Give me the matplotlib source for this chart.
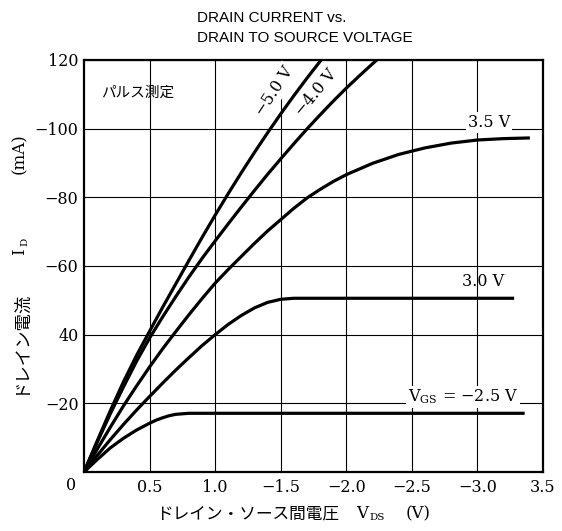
import matplotlib
matplotlib.use('Agg')
import matplotlib.pyplot as plt

W, H = 562, 531  # output size in pixels

# drain current (mA, magnitude) vs drain-source voltage (V, magnitude)
vds_50 = [0, 0.1, 0.2, 0.3, 0.4, 0.5, 0.6, 0.7, 0.8, 0.9, 1.0, 1.1, 1.2, 1.3,
          1.4, 1.5, 1.6, 1.7, 1.8, 1.85]
id_50 = [0, 9.0, 17.8, 26.2, 33.9, 41.0, 48.0, 54.8, 61.6, 68.3, 74.8, 81.1,
         87.2, 93.1, 98.8, 104.3, 109.6, 114.7, 119.6, 122.0]

vds_40 = [0, 0.1, 0.2, 0.3, 0.4, 0.5, 0.6, 0.7, 0.8, 0.9, 1.0, 1.1, 1.2, 1.3,
          1.4, 1.5, 1.6, 1.7, 1.8, 1.9, 2.0, 2.1, 2.2, 2.25]
id_40 = [0, 8.6, 16.9, 24.7, 32.2, 39.0, 45.2, 51.1, 56.8, 62.2, 67.3, 72.3,
         77.2, 82.0, 86.7, 91.2, 95.6, 99.9, 104.0, 108.0, 111.8, 115.4, 118.9, 120.6]

vds_35 = [0, 0.1, 0.2, 0.3, 0.4, 0.5, 0.6, 0.7, 0.8, 0.9, 1.0, 1.1, 1.2, 1.3,
          1.4, 1.5, 1.6, 1.7, 1.8, 1.9, 2.0, 2.2, 2.4, 2.6, 2.8, 3.0, 3.2, 3.4]
id_35 = [0, 6.6, 13.0, 19.2, 25.0, 30.6, 35.9, 40.9, 45.8, 50.5, 55.0, 59.0,
         62.8, 66.6, 70.2, 73.5, 76.8, 79.8, 82.3, 84.6, 86.6, 89.9, 92.5, 94.4,
         95.8, 96.7, 97.1, 97.3]

vds_30 = [0, 0.1, 0.2, 0.3, 0.4, 0.5, 0.6, 0.7, 0.8, 0.9, 1.0, 1.1, 1.2, 1.3,
          1.4, 1.5, 1.6, 3.28]
id_30 = [0, 4.8, 9.4, 13.8, 18.0, 22.0, 25.9, 29.7, 33.3, 36.8, 40.0, 43.0,
         45.6, 47.8, 49.4, 50.3, 50.6, 50.6]

vds_25 = [0, 0.1, 0.2, 0.3, 0.4, 0.5, 0.55, 0.6, 0.65, 0.7, 0.8, 3.36]
id_25 = [0, 3.6, 7.0, 9.8, 12.2, 14.2, 15.1, 15.8, 16.4, 16.8, 17.1, 17.1]

x_ticks = [0.5, 1.0, 1.5, 2.0, 2.5, 3.0, 3.5]
x_tick_labels = ['0.5', '1.0', '\u22121.5', '\u22122.0', '\u22122.5', '\u22123.0', '3.5']
y_ticks = [20, 40, 60, 80, 100, 120]
y_tick_labels = ['\u221220', '40', '\u221260', '\u221280', '\u2212100', '120']

NUM = 'DejaVu Serif'
JP = ['Noto Sans CJK JP', 'DejaVu Sans']
plt.rcParams['mathtext.fontset'] = 'dejavuserif'

fig = plt.figure(figsize=(W / 100, H / 100), dpi=100)
ax = fig.add_axes([84 / W, 1 - 472 / H, 459 / W, 412 / H])

for vx, iy in [(vds_50, id_50), (vds_40, id_40), (vds_35, id_35),
               (vds_30, id_30), (vds_25, id_25)]:
    ax.plot(vx, iy, color='black', lw=2.3, solid_capstyle='butt',
            solid_joinstyle='round', zorder=4)

ax.set_xlim(0, 3.5)
ax.set_ylim(0, 120)
ax.set_xticks(x_ticks)
ax.set_xticklabels(x_tick_labels, fontfamily=NUM, fontsize=11.5)
ax.set_yticks(y_ticks)
ax.set_yticklabels(y_tick_labels, fontfamily=NUM, fontsize=11.5)
ax.tick_params(length=0)
ax.tick_params(axis='x', pad=5)
ax.tick_params(axis='y', pad=4)
ax.grid(True, color='black', lw=0.8)
ax.set_axisbelow(True)
for sp in ax.spines.values():
    sp.set_linewidth(1.6)

# shared origin label
ax.text(-0.099, -3.8, '0', fontfamily=NUM, fontsize=11.5,
        ha='center', va='center', clip_on=False)

# curve labels
white = dict(facecolor='white', edgecolor='none', pad=1.5)
ax.text(1.45, 110.9, '\u22125.0 V', fontfamily=NUM, fontsize=11.5, rotation=56.7,
        ha='center', va='center', rotation_mode='anchor', zorder=3, bbox=white)
ax.text(1.77, 110.4, '\u22124.0 V', fontfamily=NUM, fontsize=11.5, rotation=50.6,
        ha='center', va='center', rotation_mode='anchor', zorder=3, bbox=white)
ax.text(3.09, 100.4, '3.5 V', fontfamily=NUM, fontsize=11.5,
        ha='center', va='baseline', zorder=3, bbox=white)
ax.text(3.04, 55.5, '3.0 V', fontfamily=NUM, fontsize=11.5,
        ha='center', va='center', zorder=3)
ax.text(2.89, 20.5, r'$\mathrm{V_{GS}}$ = ' + '\u22122.5 V',
        fontfamily=NUM, fontsize=11.5, ha='center', va='baseline', zorder=3, bbox=white)

ax.text(0.41, 110.6, 'パルス測定', fontfamily=JP, fontsize=10.5,
        ha='center', va='center', zorder=3)

# title
fig.text(197 / W, 1 - 22 / H, 'DRAIN CURRENT vs.', fontfamily='Liberation Sans',
         fontsize=11, va='baseline', ha='left')
fig.text(197 / W, 1 - 42 / H, 'DRAIN TO SOURCE VOLTAGE', fontfamily='Liberation Sans',
         fontsize=11, va='baseline', ha='left')

# y axis label, built from pieces (rotated)
fig.text(20 / W, 1 - 342 / H, 'ドレイン電流', fontfamily=JP, fontsize=12.5,
         rotation=90, ha='center', va='center')
fig.text(20 / W, 1 - 252 / H, 'I', fontfamily=NUM, fontsize=12,
         rotation=90, ha='center', va='center')
fig.text(25 / W, 1 - 242 / H, 'D', fontfamily=NUM, fontsize=7.5,
         rotation=90, ha='center', va='center')
fig.text(20 / W, 1 - 154 / H, '(mA)', fontfamily=NUM, fontsize=12,
         rotation=90, ha='center', va='center')

# x axis label, built from pieces
fig.text(248 / W, 1 - 514 / H, 'ドレイン・ソース間電圧', fontfamily=JP, fontsize=12,
         ha='center', va='center')
fig.text(362 / W, 1 - 514 / H, 'V', fontfamily=NUM, fontsize=12,
         ha='center', va='center')
fig.text(377 / W, 1 - 518 / H, 'DS', fontfamily=NUM, fontsize=7.5,
         ha='center', va='center')
fig.text(418 / W, 1 - 514 / H, '(V)', fontfamily=NUM, fontsize=12,
         ha='center', va='center')

fig.savefig('out.png', dpi=100, facecolor='white')
